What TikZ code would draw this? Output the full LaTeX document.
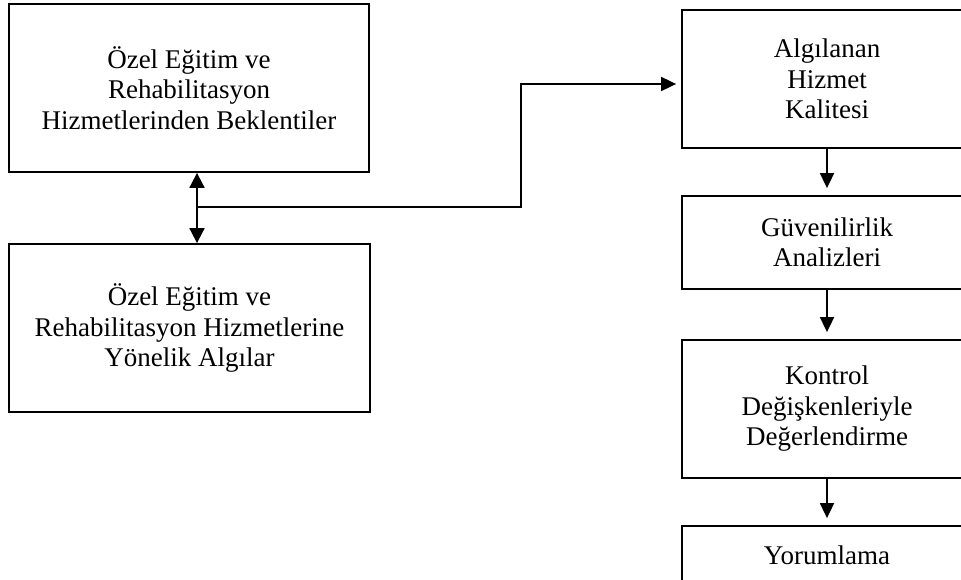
\documentclass[tikz,border=0pt]{standalone}
\usepackage{fontspec}
\setmainfont{Liberation Serif}
\usetikzlibrary{arrows.meta,calc}
\begin{document}
\begin{tikzpicture}[x=1pt,y=-1pt,
  box/.style={draw=black,line width=1.8pt,rectangle,inner sep=0pt,align=center,
    font=\fontsize{27}{30.5}\selectfont},
  tip/.style={Triangle[length=15pt,width=14.5pt]},
  link/.style={line width=1.8pt,-{Triangle[length=15pt,width=14pt]}},
  twoway/.style={line width=1.8pt,{Triangle[length=15pt,width=15pt]}-{Triangle[length=15pt,width=15pt]}}]
  \useasboundingbox (0,0) rectangle (961,580);
  \clip (0,0) rectangle (961,580);

  % left column
  \node[box,minimum width=360pt,minimum height=168pt] (bek) at (189,88)
    {Özel Eğitim ve\\Rehabilitasyon\\Hizmetlerinden Beklentiler};
  \node[box,minimum width=361pt,minimum height=168pt] (alg) at (189.5,328)
    {Özel Eğitim ve\\Rehabilitasyon Hizmetlerine\\Yönelik Algılar};

  % right column (runs past the page edge)
  \node[box,minimum width=290pt,minimum height=138pt] (kal) at (827,79)
    {Algılanan\\Hizmet\\Kalitesi};
  \node[box,minimum width=290pt,minimum height=93pt] (guv) at (827,242.5)
    {Güvenilirlik\\Analizleri};
  \node[box,minimum width=290pt,minimum height=138pt] (kon) at (827,409)
    {Kontrol\\Değişkenleriyle\\Değerlendirme};
  \node[box,minimum width=290pt,minimum height=58pt] (yor) at (827,555)
    {Yorumlama};

  % connectors
  \coordinate (junc) at (197,207);
  \coordinate (bend) at (521,207);
  \draw[twoway] (junc |- bek.south) -- (junc |- alg.north);
  \draw[link,shorten >=5pt] (junc) -- (bend) |- ([yshift=-5pt]kal.west);
  \draw[link,shorten >=7pt] (kal.south) -- (guv.north);
  \draw[link,shorten >=7pt] (guv.south) -- (kon.north);
  \draw[link,shorten >=7pt] (kon.south) -- (yor.north);
\end{tikzpicture}
\end{document}
